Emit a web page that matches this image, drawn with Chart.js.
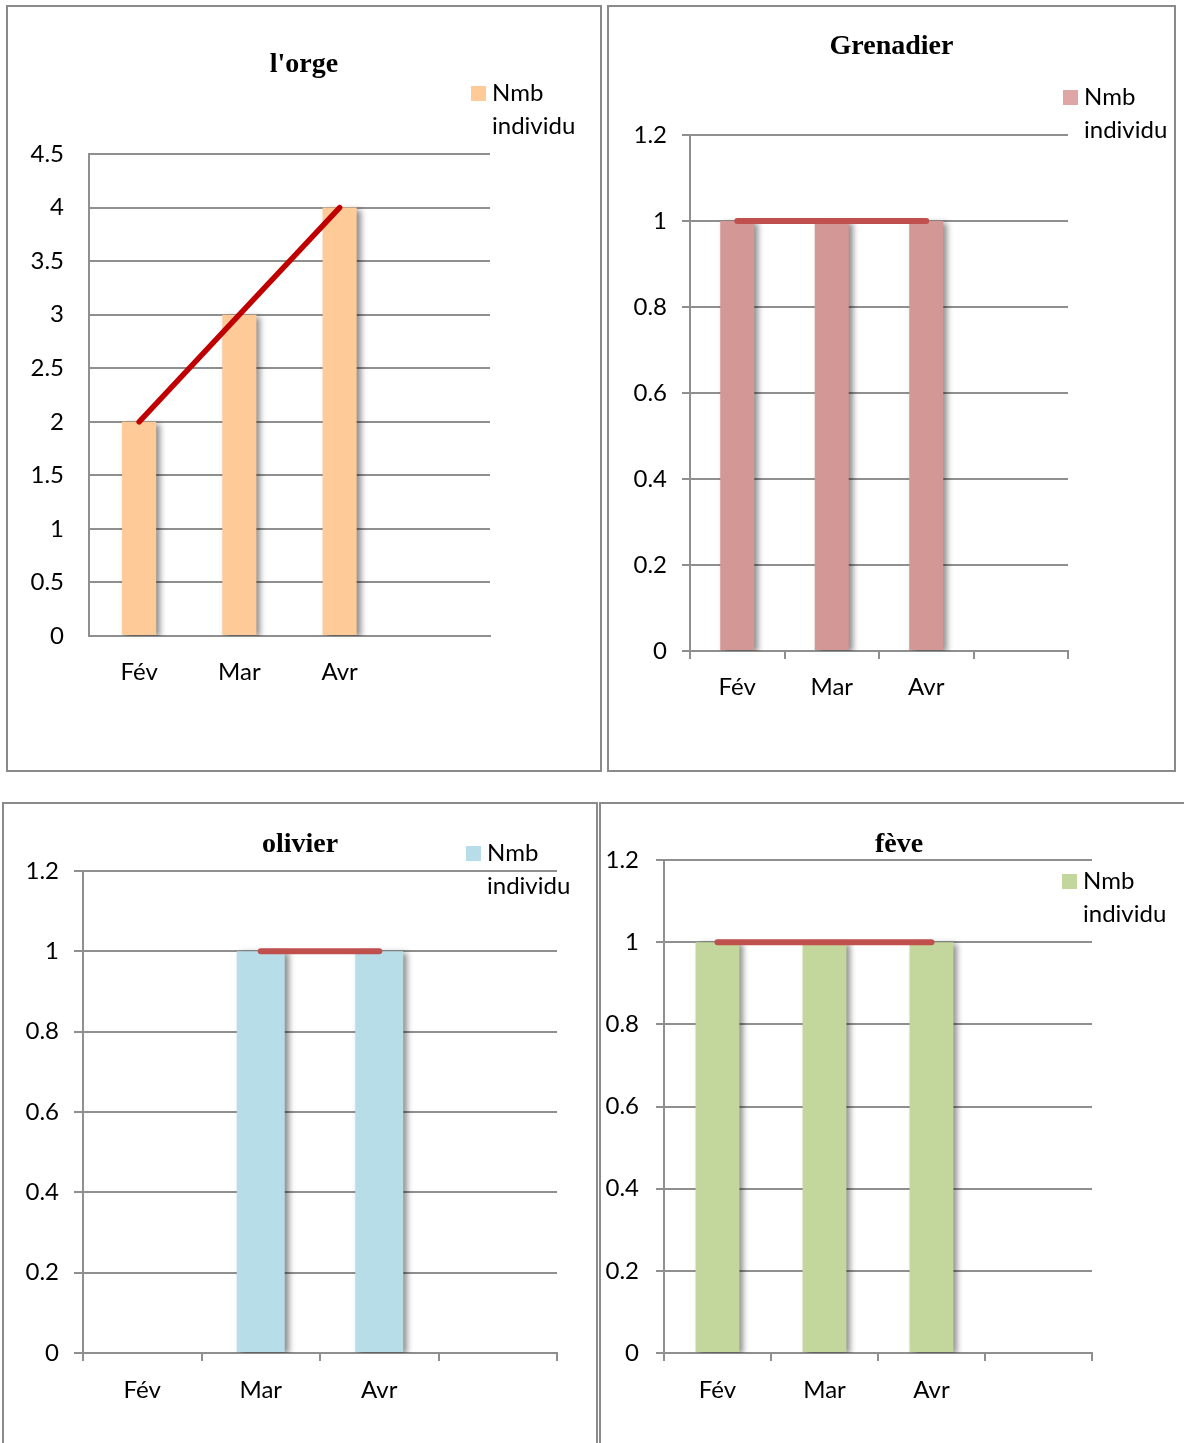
<!DOCTYPE html>
<html><head><meta charset="utf-8">
<script src="https://cdn.jsdelivr.net/npm/chart.js@4.4.1/dist/chart.umd.min.js"></script>
<style>
html,body{margin:0;padding:0;background:#fff;overflow:hidden;}
body{width:1184px;height:1443px;position:relative;}
.panel{position:absolute;border:2px solid #8a8a8a;box-sizing:border-box;background:#fff;overflow:hidden;}
.panel canvas{position:absolute;left:0;top:0;}
</style></head><body>
<div class="panel" style="left:6px;top:5px;width:596px;height:767px"><canvas id="c1" width="592" height="763" style="width:592px;height:763px"></canvas></div>
<div class="panel" style="left:607px;top:5px;width:569px;height:767px"><canvas id="c2" width="565" height="763" style="width:565px;height:763px"></canvas></div>
<div class="panel" style="left:2px;top:802px;width:596px;height:660px"><canvas id="c3" width="592" height="656" style="width:592px;height:656px"></canvas></div>
<div class="panel" style="left:599px;top:802px;width:600px;height:660px"><canvas id="c4" width="596" height="656" style="width:596px;height:656px"></canvas></div>
<script>
// ---- data ----
const months = ['Fév', 'Mar', 'Avr', ''];
const seriesLabel = 'Nmb individu';
const orgeBars = [2, 3, 4, null];
const orgeLine = [2, 3, 4, null];
const grenadierBars = [1, 1, 1, null];
const grenadierLine = [1, 1, 1, null];
const olivierBars = [null, 1, 1, null];
const olivierLine = [null, 1, 1, null];
const feveBars = [1, 1, 1, null];
const feveLine = [1, 1, 1, null];
const orgeTicks = [0, 0.5, 1, 1.5, 2, 2.5, 3, 3.5, 4, 4.5];
const unitTicks = [0, 0.2, 0.4, 0.6, 0.8, 1, 1.2];

const GRID = '#8f8f8f';
const TICKFONT = {family: 'Lato', size: 24};

const shadowPlugin = {
  id: 'barShadow',
  beforeDatasetDraw(chart, args) {
    if (args.meta.type === 'bar') {
      const c = chart.ctx; c.save();
      c.shadowColor = 'rgba(0,0,0,0.45)'; c.shadowBlur = 6; c.shadowOffsetX = 4; c.shadowOffsetY = 2;
    }
  },
  afterDatasetDraw(chart, args) { if (args.meta.type === 'bar') chart.ctx.restore(); }
};
const legendPlugin = {
  id: 'twoLineLegend',
  afterDraw(chart, args, o) {
    const c = chart.ctx; c.save();
    c.fillStyle = o.color; c.fillRect(o.x, o.y, 15, 15);
    c.fillStyle = '#000'; c.font = '24px Lato'; c.textBaseline = 'middle'; c.textAlign = 'left';
    const lines = chart.data.datasets[0].label.split(' ');
    lines.forEach((t, i) => c.fillText(t, o.x + 21, o.y + 7.5 + i * 32.5));
    c.restore();
  }
};

function makeChart(id, g) {
  return new Chart(document.getElementById(id), {
    type: 'bar',
    data: {
      labels: months,
      datasets: [
        {type: 'bar', label: seriesLabel, data: g.bars, backgroundColor: g.barColor, borderWidth: 0,
         categoryPercentage: 1, barPercentage: g.barPct, order: 2},
        {type: 'line', label: 'line', data: g.line, borderColor: g.lineColor, borderWidth: g.lineW,
         borderCapStyle: 'round', pointRadius: 0, fill: false, order: 1, spanGaps: false}
      ]
    },
    options: {
      responsive: false, animation: false, devicePixelRatio: 1,
      layout: {padding: 0},
      plugins: {
        legend: {display: false}, tooltip: {enabled: false},
        title: {display: true, text: g.title, color: '#000',
                font: {family: 'Liberation Serif', size: 28, weight: 'bold', lineHeight: 1.2},
                padding: {top: g.tTop, bottom: g.tBot}},
        twoLineLegend: {color: g.legendColor, x: g.lx, y: g.ly}
      },
      scales: {
        x: {
          offset: true,
          grid: {display: g.xTicks, drawOnChartArea: false, drawTicks: true, tickLength: 8, color: GRID, lineWidth: 2},
          border: {display: true, color: GRID, width: 2},
          ticks: {color: '#000', font: TICKFONT, padding: g.xPad, maxRotation: 0, autoSkip: false},
          afterFit: s => { s.height = g.xH; }
        },
        y: {
          min: 0, max: g.ticks[g.ticks.length - 1],
          afterBuildTicks: s => { s.ticks = g.ticks.map(v => ({value: v})); },
          grid: {color: GRID, lineWidth: 2, drawTicks: g.yTick > 0, tickLength: g.yTick},
          border: {display: true, color: GRID, width: 2},
          ticks: {color: '#000', font: TICKFONT, padding: g.yPad, callback: v => String(v)},
          afterFit: s => { s.width = g.yW; }
        },
        pad: {
          type: 'linear', position: 'right', display: true,
          grid: {display: false}, border: {display: false}, ticks: {display: false},
          afterFit: s => { s.width = g.padR; }
        }
      }
    },
    plugins: [shadowPlugin, legendPlugin]
  });
}

makeChart('c1', {title: "l'orge", bars: orgeBars, line: orgeLine, ticks: orgeTicks,
  barColor: '#FDCA98', legendColor: '#FDCA98', lineColor: '#C00000', lineW: 5.5, barPct: 0.34,
  yW: 81, xH: 134, padR: 110, tTop: 41.2, tBot: 72.2, yTick: 0, yPad: 25, xTicks: false, xPad: 14,
  lx: 463, ly: 79});
makeChart('c2', {title: 'Grenadier', bars: grenadierBars, line: grenadierLine, ticks: unitTicks,
  barColor: '#D39796', legendColor: '#DFA6A6', lineColor: '#C0504D', lineW: 6, barPct: 0.36,
  yW: 81, xH: 119, padR: 106, tTop: 23.2, tBot: 71.2, yTick: 8, yPad: 15, xTicks: true, xPad: 14,
  lx: 454, ly: 83});
makeChart('c3', {title: 'olivier', bars: olivierBars, line: olivierLine, ticks: unitTicks,
  barColor: '#B7DDE8', legendColor: '#B7DDE8', lineColor: '#C0504D', lineW: 6, barPct: 0.405,
  yW: 79, xH: 107, padR: 39, tTop: 24.2, tBot: 9.2, yTick: 9, yPad: 15, xTicks: true, xPad: 15,
  lx: 462, ly: 42});
makeChart('c4', {title: 'fève', bars: feveBars, line: feveLine, ticks: unitTicks,
  barColor: '#C3D69B', legendColor: '#C3D69B', lineColor: '#C0504D', lineW: 6, barPct: 0.41,
  yW: 63, xH: 107, padR: 105, tTop: 24.2, tBot: -1.8, yTick: 8, yPad: 17, xTicks: true, xPad: 15,
  lx: 461, ly: 70});
</script>
</body></html>
